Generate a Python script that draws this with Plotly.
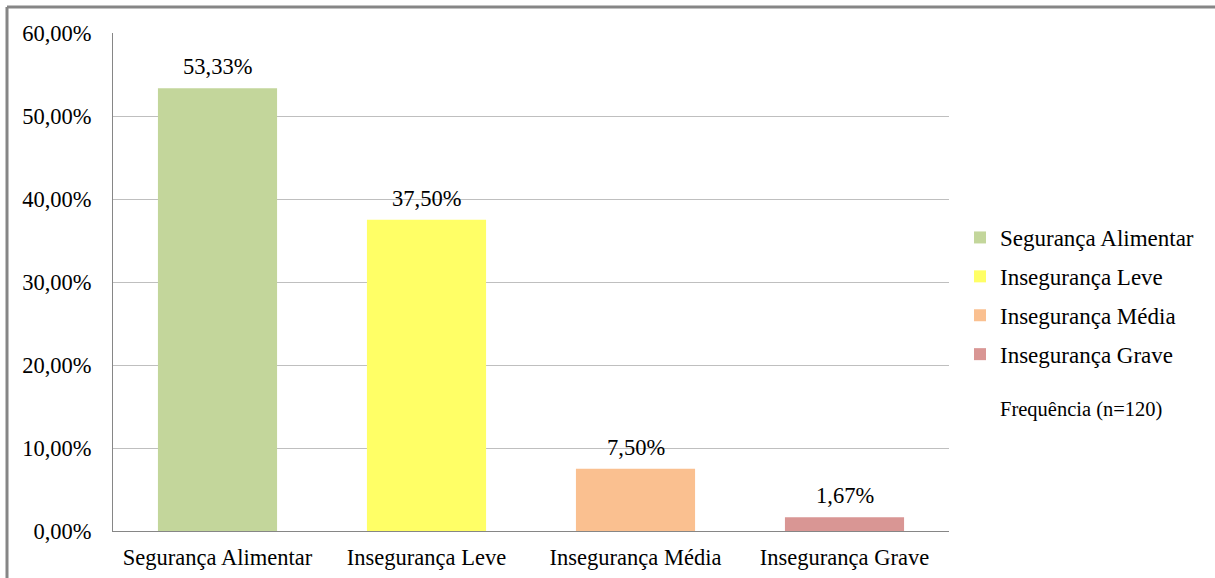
import plotly.graph_objects as go

categories = ["Segurança Alimentar", "Insegurança Leve", "Insegurança Média", "Insegurança Grave"]
values = [53.33, 37.50, 7.50, 1.67]
labels = ["53,33%", "37,50%", "7,50%", "1,67%"]
colors = ["#C3D69B", "#FFFF66", "#FAC090", "#D99694"]
y_ticks = [0, 10, 20, 30, 40, 50, 60]
y_tick_labels = ["0,00%", "10,00%", "20,00%", "30,00%", "40,00%", "50,00%", "60,00%"]
legend_note = "Frequência (n=120)"

W, H = 1215, 578
L, R, T, B = 113, 266, 33, 47
pw = W - L - R
ph = H - T - B
FONT = "Liberation Serif"

fig = go.Figure()
for i, (c, v, col) in enumerate(zip(categories, values, colors)):
    fig.add_trace(go.Bar(
        x=[c], y=[v], name=c, marker=dict(color=col, line=dict(width=0)),
        width=0.57, legendgroup=str(i), hoverinfo="skip",
    ))
    fig.add_annotation(x=c, y=v, text=labels[i], showarrow=False,
                       yanchor="bottom", yshift=7,
                       font=dict(family=FONT, size=22.5, color="#000"))

fig.add_annotation(xref="paper", yref="paper",
                   x=(1081 - L) / pw, y=(H - B - 409) / ph,
                   text=legend_note, showarrow=False, xanchor="center", yanchor="middle",
                   font=dict(family=FONT, size=20.5, color="#000"))

# outer frame
fl = (7 - L) / pw
ft = (H - B - 7) / ph
fig.add_shape(type="line", xref="paper", yref="paper", x0=fl, x1=fl, y0=ft, y1=-0.3,
              line=dict(color="#868686", width=3))
fig.add_shape(type="line", xref="paper", yref="paper", x0=fl, x1=1.5, y0=ft, y1=ft,
              line=dict(color="#868686", width=3))

fig.update_layout(
    width=W, height=H,
    margin=dict(l=L, r=R, t=T, b=B, autoexpand=False),
    paper_bgcolor="white", plot_bgcolor="white",
    barmode="overlay",
    font=dict(family=FONT, size=22.5, color="#000"),
    showlegend=True,
    legend=dict(x=(960 - L) / pw, y=(H - B - 216) / ph, xanchor="left", yanchor="top",
                font=dict(family=FONT, size=23, color="#000"),
                tracegroupgap=6, itemwidth=30, bgcolor="rgba(0,0,0,0)"),
    xaxis=dict(type="category", showgrid=False, showline=True, linecolor="#868686",
               linewidth=1, ticks="", tickfont=dict(size=22.5), fixedrange=True,
               ticklabelstandoff=6, automargin=False),
    yaxis=dict(range=[0, 60], tickmode="array", tickvals=y_ticks, ticktext=y_tick_labels,
               showgrid=True, gridcolor="#BFBFBF", gridwidth=1,
               showline=True, linecolor="#868686", linewidth=1, ticks="",
               zeroline=False, tickfont=dict(size=22.5), ticklabelstandoff=16,
               automargin=False, fixedrange=True),
)

fig.write_html("out.html", config={"displayModeBar": False},
               post_script="document.body.style.margin='0';")
